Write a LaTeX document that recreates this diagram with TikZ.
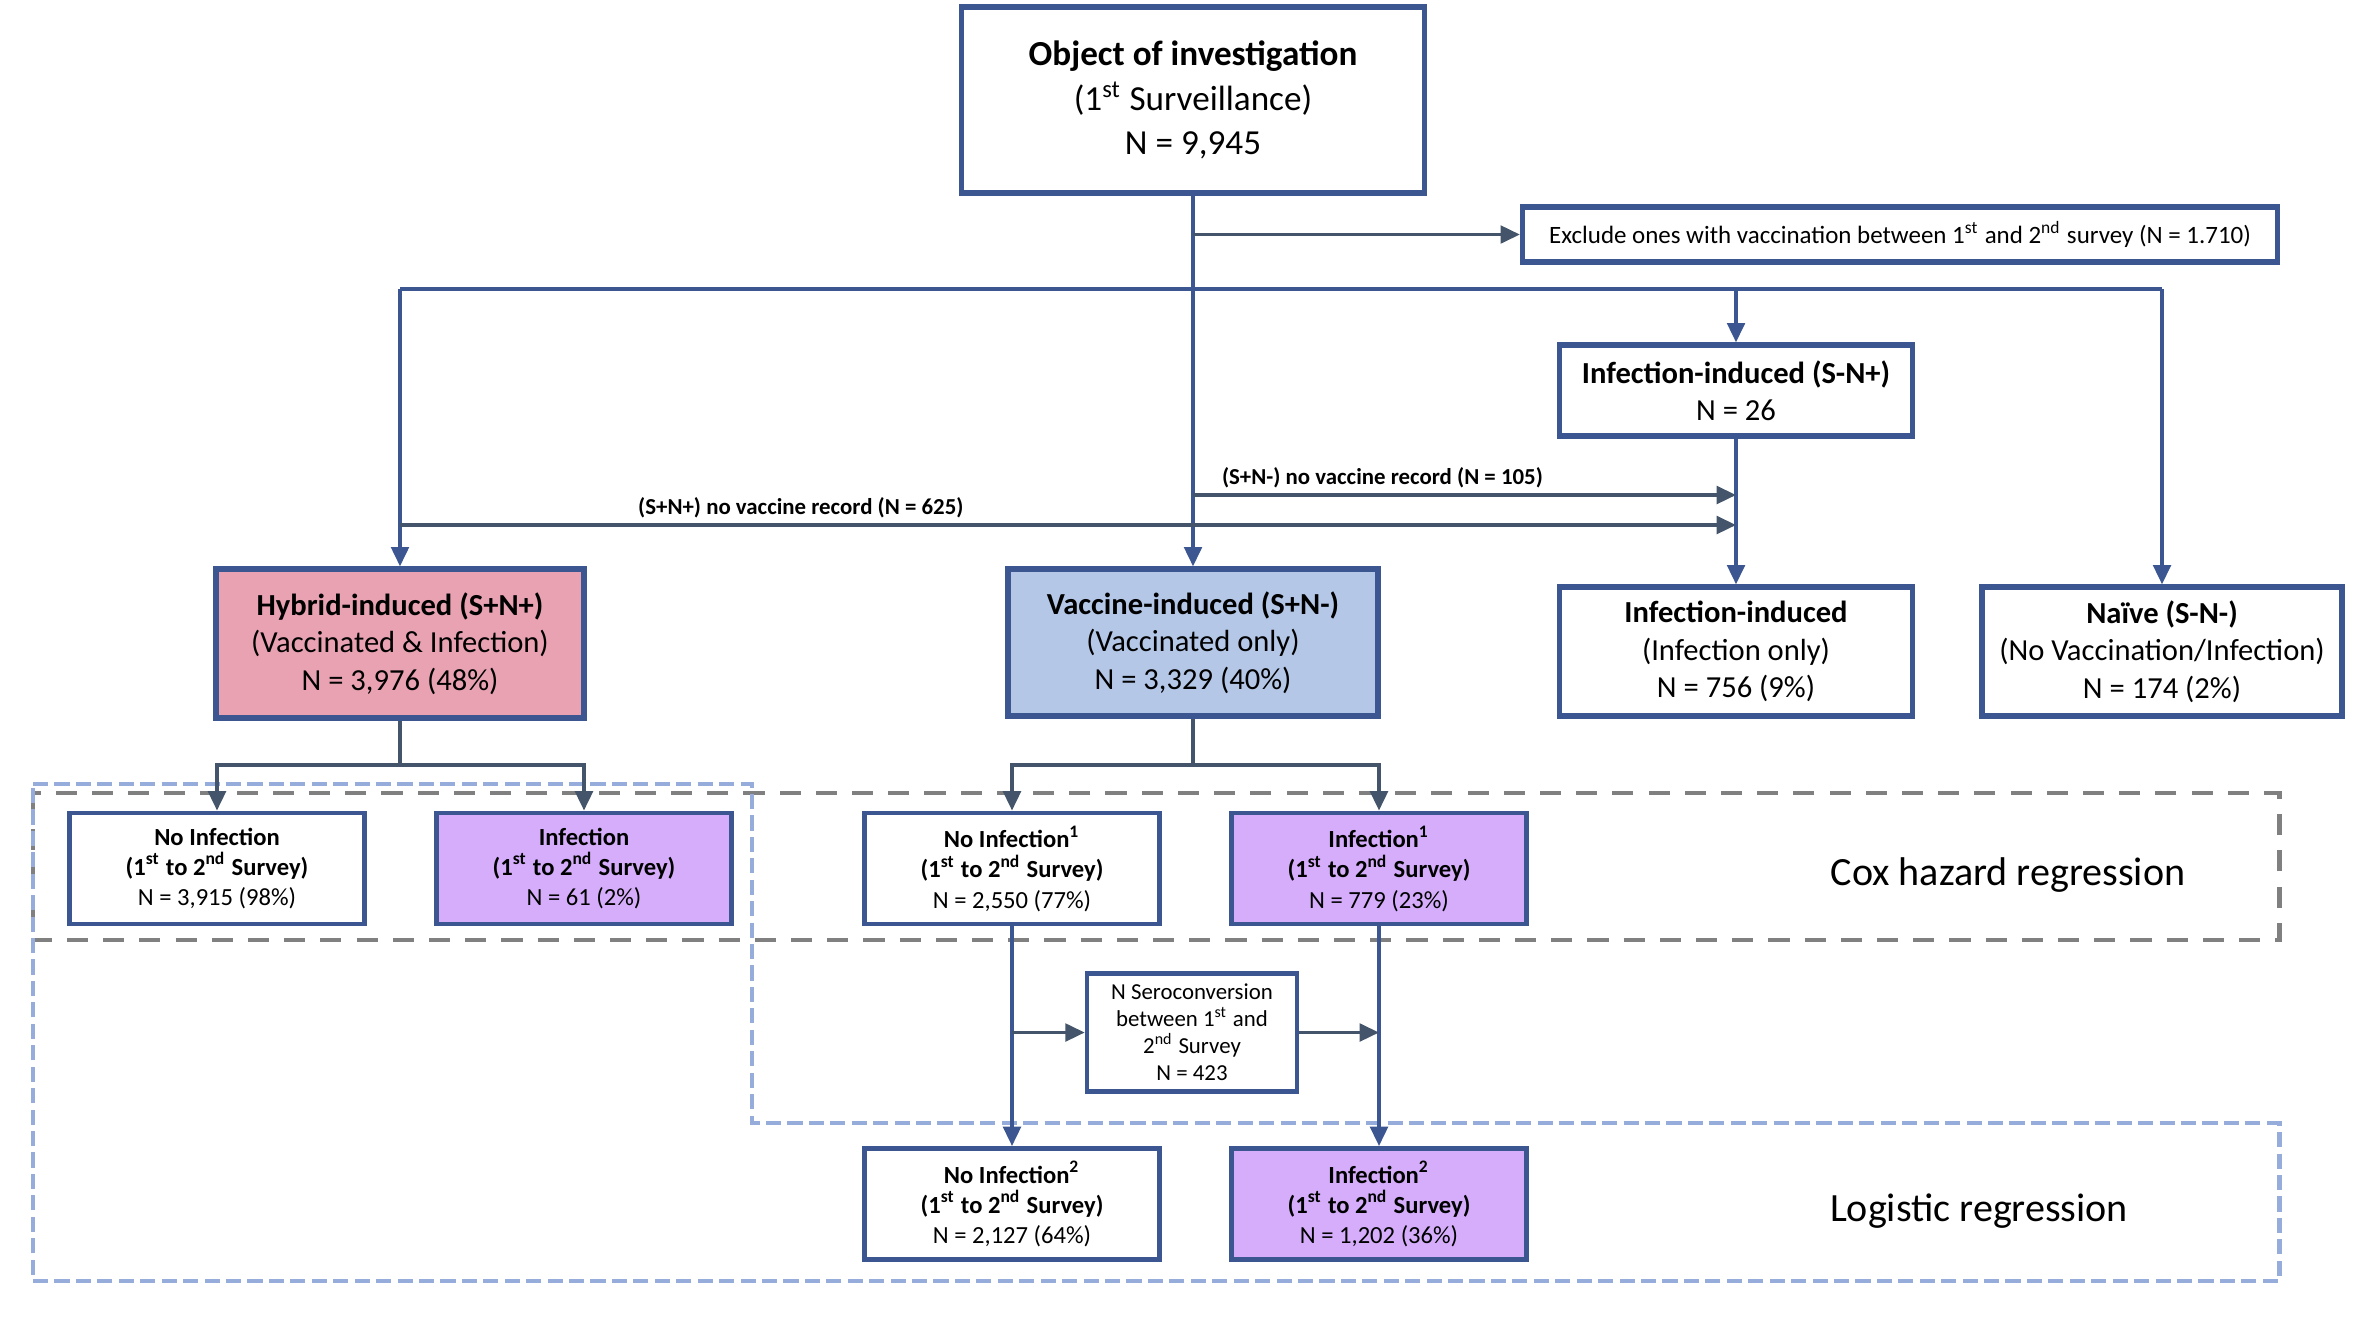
\documentclass[tikz,border=0pt]{standalone}
\usepackage{fontspec}
\setmainfont{Carlito}
\usetikzlibrary{arrows.meta,calc}

\definecolor{boxblue}{RGB}{59,86,145}
\definecolor{slate}{RGB}{68,84,106}
\definecolor{hybpink}{RGB}{232,162,178}
\definecolor{vacblue}{RGB}{180,199,231}
\definecolor{infpurple}{RGB}{213,173,251}
\definecolor{coxgray}{RGB}{128,128,128}
\definecolor{logblue}{RGB}{150,172,218}

\tikzset{
  grpbox/.style={draw=boxblue,line width=1.5pt,align=center,inner sep=2pt,
    font=\fontsize{8.7}{10.6}\selectfont},
  topbox/.style={grpbox,font=\fontsize{10}{12.6}\selectfont},
  smallbox/.style={draw=boxblue,line width=1.4pt,align=center,inner sep=1pt,
    minimum width=2.95cm,minimum height=1.11cm,font=\fontsize{7}{8.6}\selectfont},
  serobox/.style={draw=boxblue,line width=1.3pt,align=center,inner sep=1pt,
    minimum width=2.1cm,minimum height=1.18cm,font=\fontsize{6.5}{7.7}\selectfont},
  tip/.style={-{Triangle[width=5pt,length=5.5pt]}},
  bluelink/.style={draw=boxblue,line width=1pt},
  slatelink/.style={draw=slate,line width=1pt},
  bluearr/.style={bluelink,tip},
  slatearr/.style={slatelink,tip},
  edgelab/.style={font=\fontsize{6.5}{7.5}\selectfont\bfseries,inner sep=1.5pt,text=black},
  coxframe/.style={draw=coxgray,line width=1.4pt,dash pattern=on 6pt off 4.3pt},
  logframe/.style={draw=logblue,line width=1.4pt,dash pattern=on 4.3pt off 1.8pt},
  regtext/.style={font=\fontsize{11.4}{13}\selectfont},
}

\begin{document}
\begin{tikzpicture}
  \useasboundingbox (0,0) rectangle (23.74,-13.18);

  % analysis frames
  \draw[coxframe] (0.33,-7.93) rectangle (22.79,-9.40);
  \draw[logframe] (0.33,-7.84) -- (7.52,-7.84) -- (7.52,-11.23) -- (22.79,-11.23)
    -- (22.79,-12.81) -- (0.33,-12.81) -- cycle;
  \node[regtext] (cox) at (20.08,-8.75) {Cox hazard regression};
  \node[regtext] (logit) at (19.79,-12.11) {Logistic regression};

  % first level
  \node[topbox,minimum width=4.63cm,minimum height=1.86cm] (obj) at (11.93,-1.0)
    {\textbf{Object of investigation}\\(1\textsuperscript{st} Surveillance)\\N = 9,945};
  \node[draw=boxblue,line width=1.5pt,minimum width=7.55cm,minimum height=0.55cm,
    font=\fontsize{7.1}{8}\selectfont] (excl) at (19.0,-2.345)
    {Exclude ones with vaccination between 1\textsuperscript{st} and 2\textsuperscript{nd} survey (N = 1.710)};
  \node[grpbox,minimum width=3.53cm,minimum height=0.91cm] (snp) at (17.36,-3.905)
    {\textbf{Infection-induced (S-N+)}\\N = 26};

  % groups
  \node[grpbox,fill=hybpink,minimum width=3.68cm,minimum height=1.49cm] (hyb) at (4.0,-6.435)
    {\textbf{Hybrid-induced (S+N+)}\\(Vaccinated \& Infection)\\N = 3,976 (48\%)};
  \node[grpbox,fill=vacblue,minimum width=3.70cm,minimum height=1.47cm] (vac) at (11.93,-6.425)
    {\textbf{Vaccine-induced (S+N-)}\\(Vaccinated only)\\N = 3,329 (40\%)};
  \node[grpbox,minimum width=3.53cm,minimum height=1.29cm] (inf) at (17.36,-6.515)
    {\textbf{Infection-induced}\\(Infection only)\\N = 756 (9\%)};
  \node[grpbox,minimum width=3.6cm,minimum height=1.29cm] (nai) at (21.62,-6.515)
    {\textbf{Naïve (S-N-)}\\(No Vaccination/Infection)\\N = 174 (2\%)};

  % outcomes
  \node[smallbox] (noinfa) at (2.17,-8.685)
    {\textbf{No Infection}\\\textbf{(1\textsuperscript{st} to 2\textsuperscript{nd} Survey)}\\N = 3,915 (98\%)};
  \node[smallbox,fill=infpurple] (infa) at (5.84,-8.685)
    {\textbf{Infection}\\\textbf{(1\textsuperscript{st} to 2\textsuperscript{nd} Survey)}\\N = 61 (2\%)};
  \node[smallbox] (noinfb) at (10.12,-8.685)
    {\textbf{No Infection\textsuperscript{1}}\\\textbf{(1\textsuperscript{st} to 2\textsuperscript{nd} Survey)}\\N = 2,550 (77\%)};
  \node[smallbox,fill=infpurple] (infb) at (13.79,-8.685)
    {\textbf{Infection\textsuperscript{1}}\\\textbf{(1\textsuperscript{st} to 2\textsuperscript{nd} Survey)}\\N = 779 (23\%)};
  \node[serobox] (sero) at (11.92,-10.325)
    {N Seroconversion\\between 1\textsuperscript{st} and\\2\textsuperscript{nd} Survey\\N = 423};
  \node[smallbox] (noinfc) at (10.12,-12.04)
    {\textbf{No Infection\textsuperscript{2}}\\\textbf{(1\textsuperscript{st} to 2\textsuperscript{nd} Survey)}\\N = 2,127 (64\%)};
  \node[smallbox,fill=infpurple] (infc) at (13.79,-12.04)
    {\textbf{Infection\textsuperscript{2}}\\\textbf{(1\textsuperscript{st} to 2\textsuperscript{nd} Survey)}\\N = 1,202 (36\%)};

  \coordinate (split) at (0,-2.89);
  \coordinate (snm) at (0,-4.95);
  \coordinate (snpp) at (0,-5.25);
  \coordinate (fork) at (0,-7.65);

  % connectors
  \draw[bluearr] (obj.south) -- (vac.north);
  \draw[slatearr] (obj.south |- excl.west) -- (excl.west);
  \draw[bluelink] (hyb.north |- split) -- (nai.north |- split);
  \draw[bluearr] (hyb.north |- split) -- (hyb.north);
  \draw[bluearr] (snp.north |- split) -- (snp.north);
  \draw[bluearr] (nai.north |- split) -- (nai.north);
  \draw[bluearr] (snp.south) -- (inf.north);
  \draw[slatearr] (vac.north |- snm) -- (snp.south |- snm)
    node[edgelab,pos=0,anchor=south west,xshift=0.22cm] {(S+N-) no vaccine record (N = 105)};
  \draw[slatearr] (hyb.north |- snpp) -- (snp.south |- snpp)
    node[edgelab,pos=0.3,above] {(S+N+) no vaccine record (N = 625)};

  \draw[slatelink] (hyb.south) -- (hyb.south |- fork);
  \draw[slatearr] (hyb.south |- fork) -| (noinfa.north);
  \draw[slatearr] (hyb.south |- fork) -| (infa.north);
  \draw[slatelink] (vac.south) -- (vac.south |- fork);
  \draw[slatearr] (vac.south |- fork) -| (noinfb.north);
  \draw[slatearr] (vac.south |- fork) -| (infb.north);

  \draw[bluearr] (noinfb.south) -- (noinfc.north);
  \draw[bluearr] (infb.south) -- (infc.north);
  \draw[slatearr] (noinfb.south |- sero.west) -- (sero.west);
  \draw[slatearr] (sero.east) -- (infb.south |- sero.east);
\end{tikzpicture}
\end{document}
